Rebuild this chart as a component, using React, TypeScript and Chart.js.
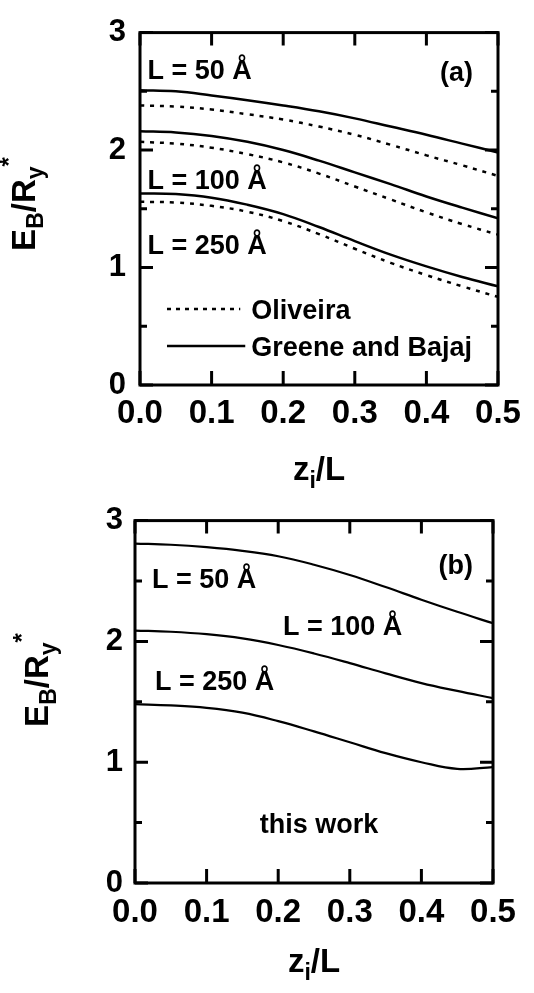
import React, { useEffect, useRef } from "react";
import { Chart, registerables } from "chart.js";

Chart.register(...registerables);

const FONT = "'Liberation Sans', Arial, Helvetica, sans-serif";

// reduced position z_i / L
const zValues = [0, 0.05, 0.1, 0.15, 0.2, 0.25, 0.3, 0.35, 0.4, 0.45, 0.5];

// panel (a)
const greeneBajaj50 = [2.51, 2.5, 2.465, 2.425, 2.38, 2.33, 2.27, 2.2, 2.13, 2.055, 1.98];
const oliveira50 = [2.38, 2.37, 2.345, 2.305, 2.26, 2.2, 2.13, 2.045, 1.955, 1.87, 1.78];
const greeneBajaj100 = [2.16, 2.15, 2.12, 2.07, 2.0, 1.91, 1.81, 1.71, 1.605, 1.51, 1.42];
const oliveira100 = [2.07, 2.055, 2.02, 1.965, 1.895, 1.8, 1.69, 1.58, 1.47, 1.37, 1.28];
const greeneBajaj250 = [1.63, 1.625, 1.595, 1.535, 1.455, 1.345, 1.225, 1.11, 1.01, 0.92, 0.84];
const oliveira250 = [1.56, 1.553, 1.525, 1.475, 1.395, 1.285, 1.16, 1.04, 0.935, 0.84, 0.75];

// panel (b)
const thisWork50 = [2.81, 2.8, 2.78, 2.75, 2.705, 2.635, 2.55, 2.45, 2.345, 2.245, 2.15];
const thisWork100 = [2.09, 2.08, 2.06, 2.025, 1.97, 1.9, 1.82, 1.735, 1.655, 1.59, 1.53];
const thisWork250 = [1.48, 1.47, 1.45, 1.41, 1.34, 1.255, 1.165, 1.075, 1.0, 0.945, 0.96];

// axes
const xTicks = [0, 0.1, 0.2, 0.3, 0.4, 0.5];
const yTicks = [0, 1, 2, 3];
const yMinorTicks = [0.5, 1.5, 2.5];

type Seg = { t: string; size: number; dy: number };

function drawRich(ctx: CanvasRenderingContext2D, segs: Seg[], cx: number, cy: number, rotate: boolean) {
  ctx.save();
  ctx.translate(cx, cy);
  if (rotate) ctx.rotate(-Math.PI / 2);
  ctx.textBaseline = "alphabetic";
  ctx.textAlign = "left";
  let total = 0;
  const widths = segs.map((s) => {
    ctx.font = `bold ${s.size}px ${FONT}`;
    const w = ctx.measureText(s.t).width;
    total += w;
    return w;
  });
  let x = -total / 2;
  segs.forEach((s, i) => {
    ctx.font = `bold ${s.size}px ${FONT}`;
    ctx.fillText(s.t, x, s.dy);
    x += widths[i];
  });
  ctx.restore();
}

const framePlugin = {
  id: "frame",
  afterDraw(chart: any, _args: any, opts: any) {
    const { ctx, chartArea: a, scales } = chart;
    const xs = scales.x;
    const ys = scales.y;
    ctx.save();
    ctx.strokeStyle = "#000";
    ctx.fillStyle = "#000";
    ctx.lineWidth = 3;
    ctx.strokeRect(a.left, a.top, a.right - a.left, a.bottom - a.top);
    // inward ticks
    ctx.beginPath();
    xTicks.forEach((v) => {
      const px = xs.getPixelForValue(v);
      ctx.moveTo(px, a.bottom);
      ctx.lineTo(px, a.bottom - 14);
      ctx.moveTo(px, a.top);
      ctx.lineTo(px, a.top + 13);
    });
    yTicks.forEach((v) => {
      const py = ys.getPixelForValue(v);
      ctx.moveTo(a.left, py);
      ctx.lineTo(a.left + 13, py);
      ctx.moveTo(a.right, py);
      ctx.lineTo(a.right - 13, py);
    });
    yMinorTicks.forEach((v) => {
      const py = ys.getPixelForValue(v);
      ctx.moveTo(a.left, py);
      ctx.lineTo(a.left + 7, py);
      ctx.moveTo(a.right, py);
      ctx.lineTo(a.right - 7, py);
    });
    ctx.stroke();

    // annotations
    ctx.font = `bold 27px ${FONT}`;
    ctx.textBaseline = "alphabetic";
    (opts.texts || []).forEach((t: any) => {
      ctx.textAlign = t.align || "left";
      ctx.fillText(t.text, xs.getPixelForValue(t.x), ys.getPixelForValue(t.y));
    });

    // legend
    (opts.legend || []).forEach((l: any) => {
      ctx.save();
      ctx.lineWidth = 2.5;
      ctx.setLineDash(l.dash);
      ctx.beginPath();
      const py = ys.getPixelForValue(l.y);
      ctx.moveTo(xs.getPixelForValue(l.x0), py);
      ctx.lineTo(xs.getPixelForValue(l.x1), py);
      ctx.stroke();
      ctx.restore();
      ctx.textAlign = "left";
      ctx.font = `bold 27px ${FONT}`;
      ctx.fillText(l.label, xs.getPixelForValue(l.textX), ys.getPixelForValue(l.textY));
    });

    // axis titles
    const xt = opts.xTitle;
    drawRich(
      ctx,
      [
        { t: "z", size: 33, dy: 0 },
        { t: "i", size: 23, dy: 8 },
        { t: "/L", size: 33, dy: 0 },
      ],
      (a.left + a.right) / 2 + xt.dx,
      xt.baseline,
      false
    );
    const yt = opts.yTitle;
    drawRich(
      ctx,
      [
        { t: "E", size: 33, dy: 0 },
        { t: "B", size: 23, dy: 8 },
        { t: "/R", size: 33, dy: 0 },
        { t: "y", size: 23, dy: 8 },
        { t: "*", size: 24, dy: -18 },
      ],
      yt.baseline,
      yt.center,
      true
    );
    ctx.restore();
  },
};

function series(values: number[], dashed: boolean, width: number) {
  return {
    data: zValues.map((x, i) => ({ x, y: values[i] })),
    borderColor: "#000",
    backgroundColor: "#000",
    borderWidth: width,
    borderDash: dashed ? [4, 6] : [],
    pointRadius: 0,
    tension: 0.4,
    fill: false,
  };
}

function buildConfig(datasets: any[], p: any): any {
  return {
    type: "line",
    data: { datasets },
    plugins: [framePlugin],
    options: {
      animation: false,
      responsive: false,
      events: [],
      layout: { padding: { top: p.padTop, right: p.padRight, left: 0, bottom: 0 } },
      plugins: {
        legend: { display: false },
        tooltip: { enabled: false },
        frame: p.frame,
      },
      scales: {
        x: {
          type: "linear",
          min: 0,
          max: 0.5,
          afterBuildTicks: (s: any) => {
            s.ticks = xTicks.map((v) => ({ value: v }));
          },
          afterFit: (s: any) => {
            s.height = p.xHeight;
          },
          ticks: {
            autoSkip: false,
            maxRotation: 0,
            padding: p.xPad,
            color: "#000",
            font: { family: FONT, size: 33, weight: "bold" },
            callback: (v: any) => Number(v).toFixed(1),
          },
          grid: { display: false, drawTicks: false, tickLength: 0 },
          border: { display: false },
        },
        y: {
          type: "linear",
          min: 0,
          max: 3,
          afterBuildTicks: (s: any) => {
            s.ticks = yTicks.map((v) => ({ value: v }));
          },
          afterFit: (s: any) => {
            s.width = p.yWidth;
          },
          ticks: {
            padding: p.yPad,
            color: "#000",
            font: { family: FONT, size: 31, weight: "bold" },
            callback: (v: any) => String(v),
          },
          grid: { display: false, drawTicks: false, tickLength: 0 },
          border: { display: false },
        },
      },
    },
  };
}

function Panel({ top, height, config }: { top: number; height: number; config: any }) {
  const ref = useRef<HTMLCanvasElement>(null);
  useEffect(() => {
    if (!ref.current) return;
    const chart = new Chart(ref.current, config);
    return () => chart.destroy();
  }, []);
  return (
    <canvas
      ref={ref}
      width={534}
      height={height}
      style={{ position: "absolute", left: 0, top, width: 534, height, display: "block" }}
    />
  );
}

const configA = buildConfig(
  [
    series(greeneBajaj50, false, 2.5),
    series(oliveira50, true, 2.5),
    series(greeneBajaj100, false, 2.5),
    series(oliveira100, true, 2.5),
    series(greeneBajaj250, false, 2.5),
    series(oliveira250, true, 2.5),
  ],
  {
    padTop: 22,
    padRight: 36,
    yWidth: 140,
    xHeight: 105,
    xPad: 9,
    yPad: 14,
    frame: {
      texts: [
        { text: "L = 50 Å", x: 0.0105, y: 2.603 },
        { text: "L = 100 Å", x: 0.0105, y: 1.669 },
        { text: "L = 250 Å", x: 0.0105, y: 1.116 },
        { text: "(a)", x: 0.465, y: 2.587, align: "right" },
      ],
      legend: [
        { label: "Oliveira", dash: [4, 5], x0: 0.0377, x1: 0.14, y: 0.647, textX: 0.1555, textY: 0.566 },
        { label: "Greene and Bajaj", dash: [], x0: 0.0377, x1: 0.147, y: 0.331, textX: 0.1555, textY: 0.248 },
      ],
      xTitle: { dx: 0, baseline: 480 },
      yTitle: { baseline: 35, center: 204 },
    },
  }
);

const configB = buildConfig(
  [series(thisWork50, false, 2.2), series(thisWork100, false, 2.2), series(thisWork250, false, 2.2)],
  {
    padTop: 30,
    padRight: 41,
    yWidth: 135,
    xHeight: 110,
    xPad: 10,
    yPad: 12,
    frame: {
      texts: [
        { text: "L = 50 Å", x: 0.0237, y: 2.446 },
        { text: "L = 100 Å", x: 0.2067, y: 2.05 },
        { text: "L = 250 Å", x: 0.028, y: 1.595 },
        { text: "(b)", x: 0.472, y: 2.56, align: "right" },
        { text: "this work", x: 0.257, y: 0.413, align: "center" },
      ],
      legend: [],
      xTitle: { dx: 0, baseline: 482 },
      yTitle: { baseline: 48, center: 190 },
    },
  }
);

export default function App() {
  return (
    <div style={{ position: "absolute", left: 0, top: 0, width: 534, height: 993, background: "#fff" }}>
      <Panel top={0} height={490} config={configA} />
      <Panel top={490} height={503} config={configB} />
    </div>
  );
}
